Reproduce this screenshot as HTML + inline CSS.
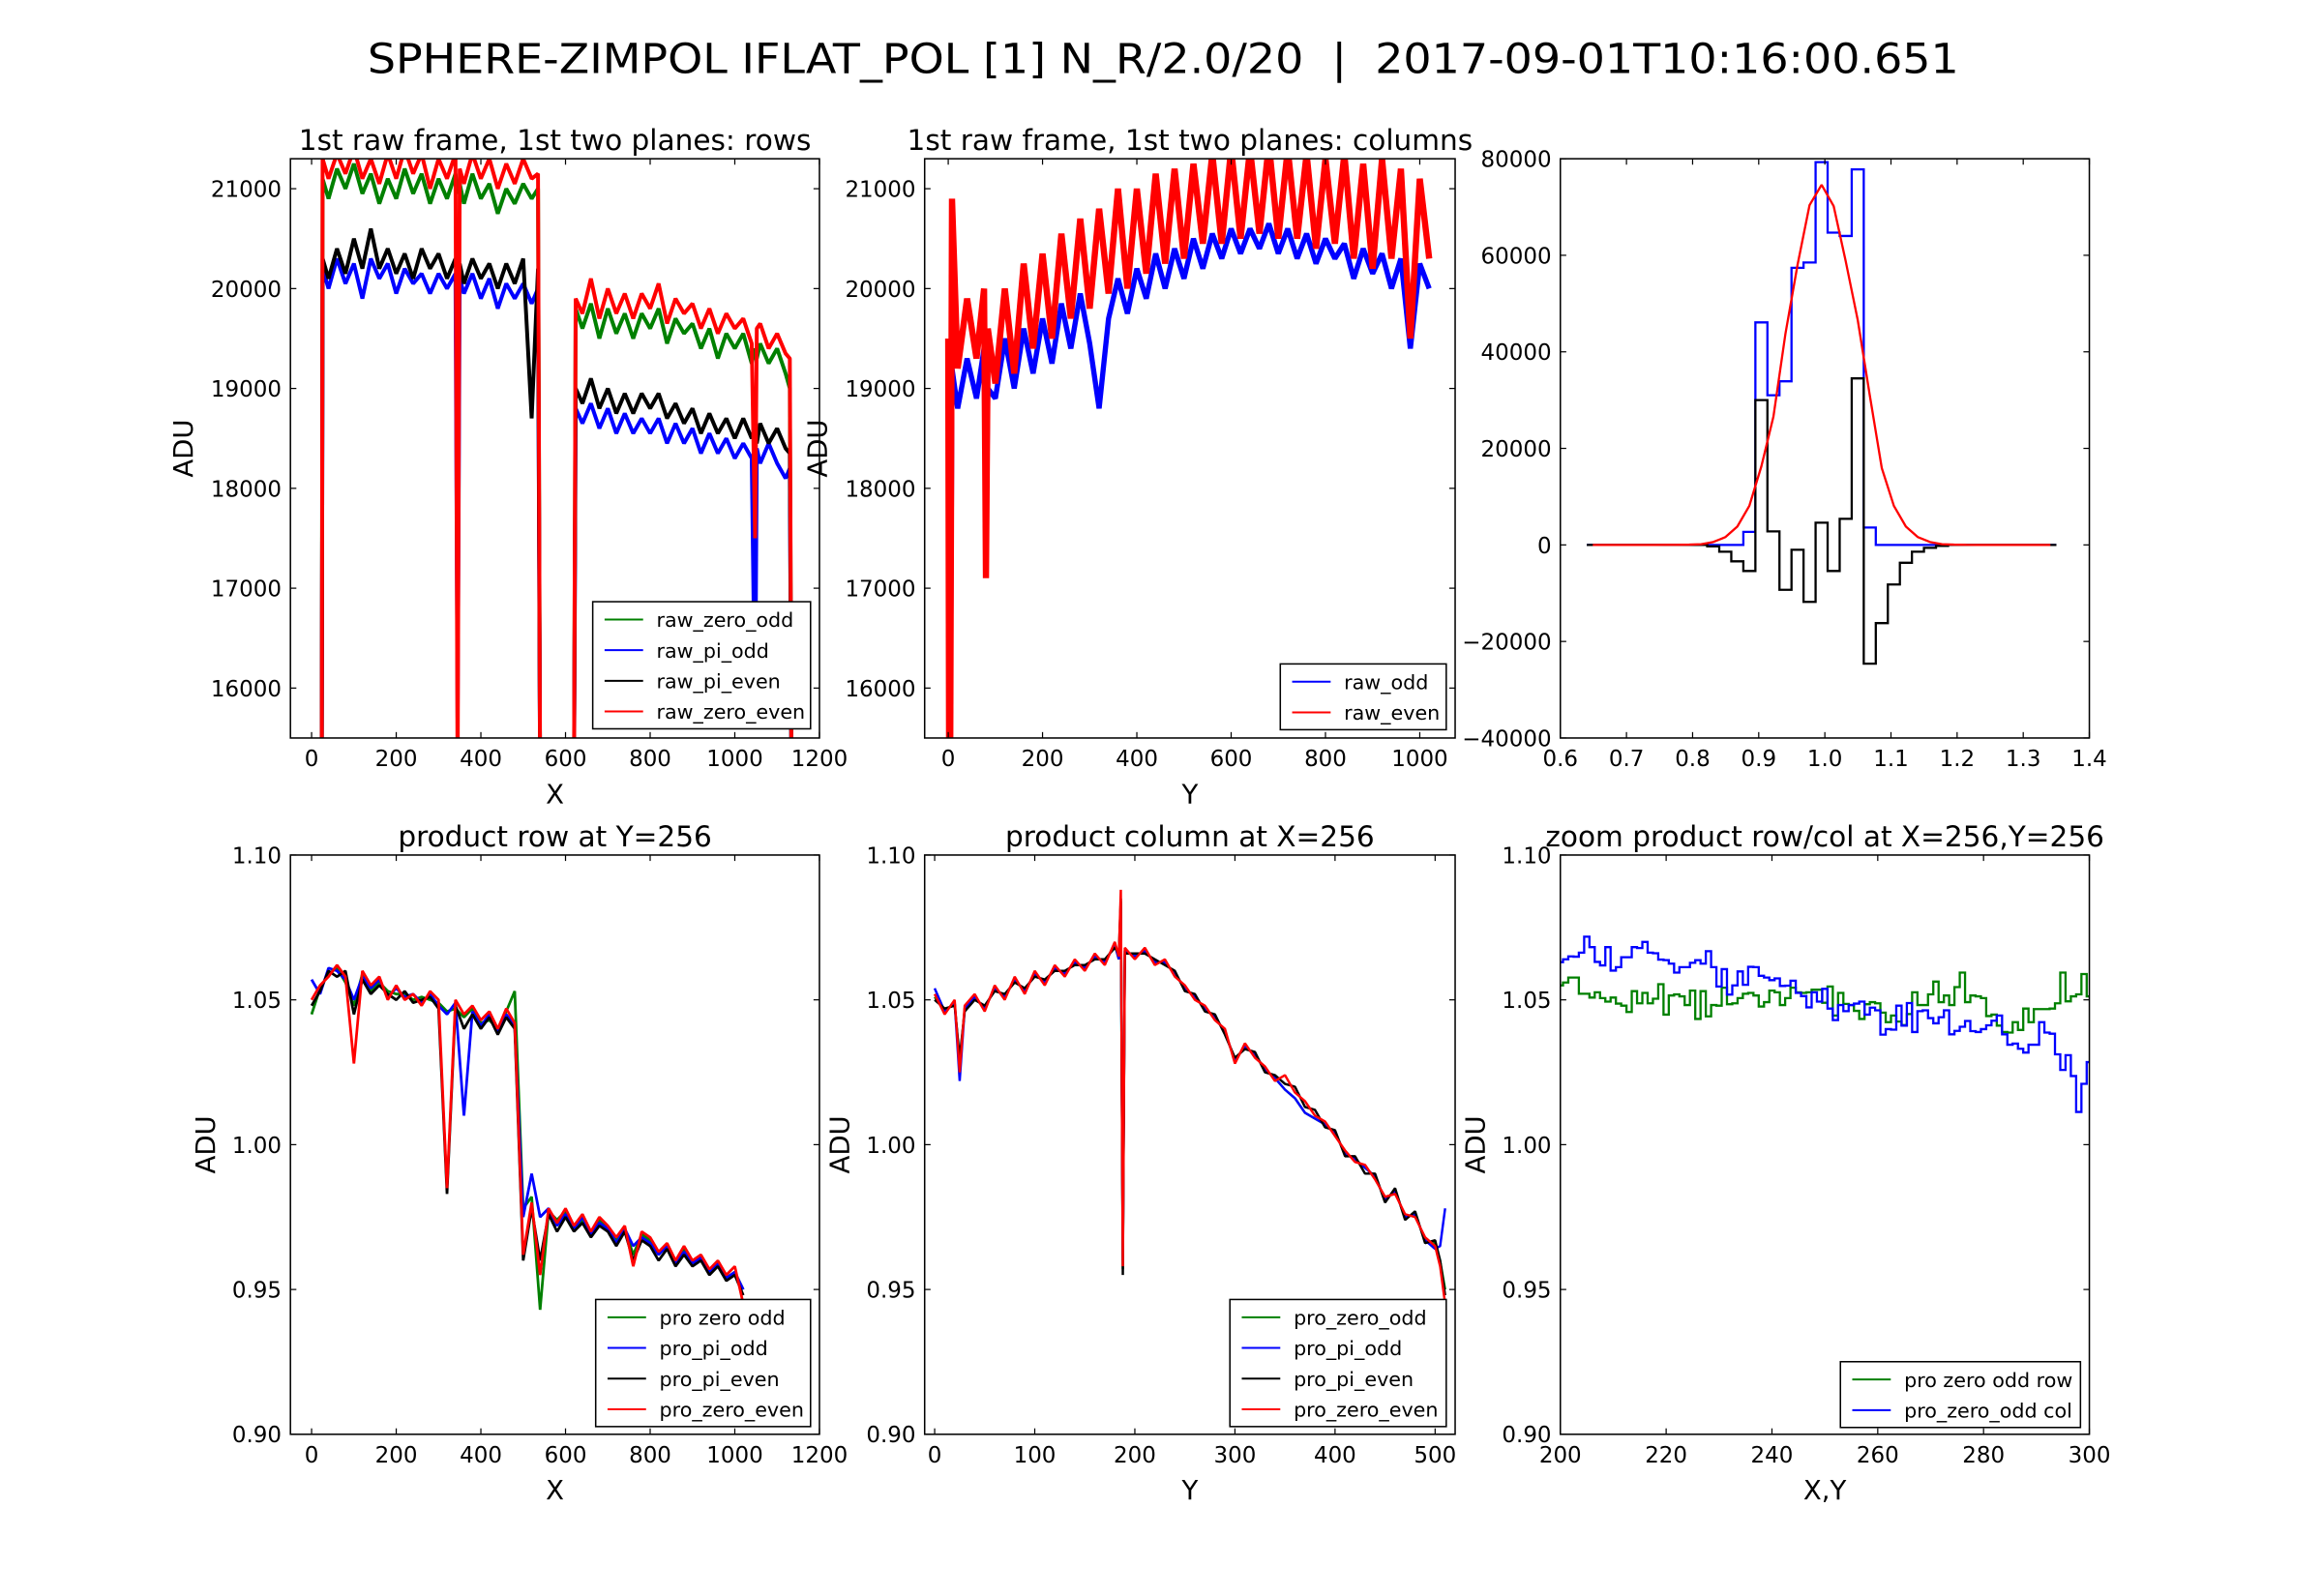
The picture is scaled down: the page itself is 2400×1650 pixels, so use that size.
<!DOCTYPE html>
<html>
<head>
<meta charset="utf-8">
<style>
html,body{margin:0;padding:0;background:#fff;}
svg{display:block;}
text{font-family:"DejaVu Sans","Liberation Sans",sans-serif;fill:#000;}
</style>
</head>
<body>
<svg id="chart" xmlns="http://www.w3.org/2000/svg" width="2400" height="1650" viewBox="0 0 1567 1077">
<rect x="0" y="0" width="1567" height="1077" fill="#fff"/>
<text x="785" y="49" font-size="28" text-anchor="middle" textLength="1074" lengthAdjust="spacingAndGlyphs">SPHERE-ZIMPOL IFLAT_POL [1] N_R/2.0/20&#160;&#160;|&#160;&#160;2017-09-01T10:16:00.651</text>
</svg>
<script>
// ---------- Panel 1: raw rows ----------
const xs1 = [0,24,26, 40,60,80,100,120,140,160,180,200,220,240,260,280,300,320,340, 345,350, 360,380,400,420,440,460,480,500,520, 535,540, 610,620,624, 640,660,680,700,720,740,760,780,800,820,840,860,880,900,920,940,960,980,1000,1020,1040, 1048,1052, 1060,1080,1100,1120, 1130,1134];
const rawZeroOdd1 = [15000,15000,21100, 20900,21200,21000,21250,20950,21150,20850,21100,20900,21200,20950,21150,20850,21100,20900,21150, 20950,21050, 20850,21150,20900,21050,20750,21000,20850,21050,20900, 21000,15000, 15000,15000,19800, 19600,19850,19500,19800,19550,19750,19500,19750,19600,19800,19450,19700,19550,19650,19400,19600,19300,19550,19400,19550,19250, 19400,19300, 19450,19250,19400,19150, 19000,15000];
const rawPiOdd1 = [15000,15000,20200, 20000,20300,20050,20250,19900,20300,20100,20250,19950,20200,20050,20150,19950,20150,20000,20150, 15700,20100, 19950,20150,19900,20100,19800,20050,19900,20050,19850, 20000,15000, 15000,15000,18800, 18650,18850,18600,18800,18550,18750,18550,18700,18550,18700,18450,18650,18450,18600,18350,18550,18350,18500,18300,18450,18300, 15700,18400, 18250,18450,18250,18100, 18200,15000];
const rawPiEven1 = [15000,15000,20300, 20100,20400,20150,20500,20200,20600,20200,20400,20150,20350,20100,20400,20200,20350,20100,20300, 20150,20250, 20050,20300,20100,20250,20000,20250,20050,20300,18700, 20200,15000, 15000,15000,19000, 18850,19100,18800,19000,18750,18950,18750,18950,18800,18950,18700,18850,18650,18800,18550,18750,18550,18700,18500,18700,18500, 18600,18450, 18650,18450,18600,18400, 18350,15000];
const rawZeroEven1 = [15000,15000,21300, 21100,21350,21150,21400,21100,21300,21050,21350,21100,21400,21150,21350,21000,21300,21100,21350, 15000,21200, 21050,21350,21100,21300,21000,21250,21050,21300,21100, 21150,15000, 15000,15000,19900, 19750,20100,19700,20000,19750,19950,19700,19950,19800,20050,19650,19900,19750,19850,19600,19800,19550,19750,19600,19700,19450, 17500,19600, 19650,19400,19550,19350, 19300,15000];

// ---------- Panel 2: raw columns ----------
const xs2 = [0,2,4,8,20,40,60,76,80,84, 100,120,140,160,180,200,220,240,260,280,300,320,340,360,380,400,420,440,460,480,500,520,540,560,580,600,620,640,660,680,700,720,740,760,780,800,820,840,860,880,900,920,940,960,980,1000,1020];
const rawOdd2 = [19000,15000,15000,19200,18800,19300,18900,19400,17400,19000, 18900,19500,19000,19600,19150,19700,19250,19850,19400,19950, 19450,18800,19700,20100,19750,20200,19900,20350,20000,20400, 20100,20500,20200,20550,20300,20600,20350,20600,20400,20650, 20350,20600,20300,20550,20250,20500,20300,20450,20100,20400, 20150,20350,20000,20300,19400,20250,20000];
const rawEven2 = [19500,15000,15000,20900,19200,19900,19300,20000,17100,19600, 19050,20000,19150,20250,19400,20350,19500,20550,19700,20700, 19800,20800,19950,21000,20000,21000,20150,21150,20250,21200, 20300,21250,20450,21350,20450,21400,20500,21400,20550,21450, 20500,21400,20500,21350,20400,21300,20450,21350,20300,21250, 20200,21300,20300,21200,19500,21100,20300];

// ---------- Panel 3: histograms ----------
const histStart = 0.64;
const histBinWidth = 0.01821;
const histBlue = [0,0,0,0,0,0,0,0,0,0, 0,0,0,2700,46100,31000,33900,57400,58500,79300, 64700,64000,77800,3600,0,0,0,0,0,0, 0,0,0,0,0,0,0,0,0];
const histBlack = [0,0,0,0,0,0,0,0,0,0, -300,-1400,-3400,-5400,30000,2800,-9300,-1000,-11800,4600, -5400,5400,34500,-24600,-16200,-8200,-3700,-1400,-600,-200, 0,0,0,0,0,0,0,0,0];
const histFit = [0,0,0,0,0,0,20,20,60,150, 600,1600,3800,8100,16300,26600,43800,58000,70400,74600, 70200,58800,46600,31000,15900,8100,3800,1600,600,150, 60,20,0,0,0,0,0,0,0];

// ---------- Panel 4: product row ----------
const xs4 = [0,20,40,60,80,100,120,140,160,180,200,220,240,260,280,300,320,340,360,380,400,420,440,460,480,500,520,540,560,580,600,620,640,660,680,700,720,740,760,780,800,820,840,860,880,900,920,940,960,980,1000,1020];
const proZeroOdd4 = [1.045,1.054,1.059,1.061,1.056,1.048,1.059,1.053,1.056,1.053, 1.052,1.052,1.050,1.051,1.050,1.049,1.046,1.047,1.044,1.047, 1.042,1.043,1.040,1.046,1.053,0.978,0.982,0.943,0.977,0.974, 0.977,0.971,0.974,0.969,0.974,0.971,0.967,0.971,0.962,0.969, 0.967,0.962,0.965,0.959,0.964,0.960,0.961,0.956,0.959,0.954, 0.956,0.950];
const proPiOdd4 = [1.057,1.052,1.061,1.060,1.057,1.050,1.058,1.054,1.057,1.051, 1.054,1.051,1.052,1.049,1.052,1.048,1.045,1.049,1.010,1.046, 1.041,1.045,1.039,1.045,1.041,0.975,0.990,0.975,0.978,0.972, 0.976,0.971,0.975,0.969,0.973,0.971,0.966,0.971,0.965,0.968, 0.966,0.962,0.965,0.959,0.963,0.959,0.961,0.956,0.959,0.954, 0.956,0.950];
const proPiEven4 = [1.048,1.053,1.060,1.058,1.060,1.045,1.057,1.052,1.055,1.052, 1.050,1.053,1.049,1.050,1.051,1.047,0.983,1.048,1.040,1.045, 1.040,1.044,1.038,1.044,1.040,0.960,0.978,0.960,0.976,0.970, 0.975,0.970,0.973,0.968,0.972,0.970,0.965,0.970,0.960,0.967, 0.965,0.960,0.964,0.958,0.962,0.958,0.960,0.955,0.958,0.953, 0.955,0.948];
const proZeroEven4 = [1.050,1.055,1.058,1.062,1.058,1.028,1.060,1.055,1.058,1.050, 1.055,1.050,1.052,1.048,1.053,1.050,0.985,1.050,1.045,1.048, 1.043,1.046,1.040,1.047,1.042,0.962,0.980,0.955,0.978,0.973, 0.978,0.972,0.976,0.970,0.975,0.972,0.968,0.972,0.958,0.970, 0.968,0.963,0.966,0.960,0.965,0.960,0.962,0.957,0.960,0.955, 0.958,0.945];

// ---------- Panel 5: product column ----------
const xs5 = [0,10,20,25,30, 40,50,60,70,80,90,100,110,120,130,140,150,160,170,180, 184,186,188, 190,200,210,220,230,240,250,260,270,280,290,300,310,320,330,340,350,360,370,380,390,400,410,420,430,440,450,460,470,480,490,500, 505,510];
const proZeroOdd5 = [1.051,1.046,1.049,1.028,1.047, 1.051,1.047,1.054,1.051,1.057,1.053,1.059,1.056,1.061,1.059,1.063,1.061,1.065,1.063,1.069, 1.064,1.084,0.957, 1.067,1.065,1.067,1.063,1.063,1.059,1.054,1.051,1.047,1.044, 1.039,1.029,1.034,1.031,1.026,1.023,1.019,1.016,1.011,1.009, 1.007,1.004,0.997,0.995,0.992,0.989,0.981,0.984,0.975,0.976, 0.967,0.966, 0.960,0.950];
const proPiOdd5 = [1.054,1.046,1.049,1.022,1.047, 1.051,1.047,1.054,1.051,1.057,1.053,1.059,1.056,1.061,1.059,1.063,1.061,1.065,1.063,1.069, 1.064,1.082,0.960, 1.067,1.065,1.067,1.063,1.063,1.059,1.054,1.051,1.047,1.044, 1.039,1.029,1.034,1.031,1.026,1.023,1.019,1.016,1.011,1.009, 1.007,1.004,0.997,0.995,0.992,0.989,0.981,0.984,0.975,0.976, 0.967,0.964, 0.965,0.978];
const proPiEven5 = [1.050,1.047,1.048,1.030,1.046, 1.050,1.048,1.053,1.052,1.056,1.054,1.058,1.057,1.060,1.060,1.062,1.062,1.064,1.064,1.068, 1.066,1.085,0.955, 1.066,1.066,1.066,1.064,1.062,1.060,1.053,1.052,1.046,1.045, 1.038,1.030,1.033,1.032,1.025,1.024,1.021,1.020,1.013,1.012, 1.006,1.005,0.996,0.996,0.990,0.990,0.980,0.985,0.974,0.977, 0.966,0.967, 0.960,0.948];
const proZeroEven5 = [1.052,1.045,1.050,1.025,1.048, 1.052,1.046,1.055,1.050,1.058,1.052,1.060,1.055,1.062,1.058,1.064,1.060,1.066,1.062,1.070, 1.065,1.088,0.958, 1.068,1.064,1.068,1.062,1.064,1.058,1.055,1.050,1.048,1.043, 1.040,1.028,1.035,1.030,1.027,1.022,1.024,1.018,1.015,1.010, 1.008,1.003,0.998,0.994,0.993,0.988,0.982,0.983,0.976,0.975, 0.968,0.965, 0.958,0.945];

// ---------- Panel 6: zoom ----------
const zoomStart = 200;
const zoomRow = [1.0550,1.0560,1.0577,1.0577,1.0521,1.0521,1.0508,1.0526,1.0506,1.0494,
1.0508,1.0487,1.0480,1.0458,1.0530,1.0488,1.0524,1.0488,1.0504,1.0554,
1.0449,1.0515,1.0519,1.0512,1.0482,1.0532,1.0434,1.0530,1.0443,1.0482,
1.0480,1.0542,1.0485,1.0488,1.0506,1.0521,1.0524,1.0515,1.0477,1.0492,
1.0532,1.0526,1.0482,1.0506,1.0542,1.0526,1.0524,1.0526,1.0535,1.0535,
1.0490,1.0546,1.0446,1.0524,1.0486,1.0482,1.0462,1.0434,1.0485,1.0492,
1.0488,1.0456,1.0423,1.0446,1.0425,1.0413,1.0451,1.0526,1.0482,1.0482,
1.0519,1.0563,1.0492,1.0515,1.0482,1.0544,1.0594,1.0492,1.0515,1.0512,
1.0506,1.0444,1.0449,1.0411,1.0389,1.0387,1.0423,1.0396,1.0470,1.0423,
1.0468,1.0468,1.0468,1.0470,1.0488,1.0594,1.0495,1.0512,1.0519,1.0589,
1.0512];
const zoomCol = [1.063,1.064,1.065,
1.0649,1.0663,1.0718,1.0682,1.0631,1.0619,1.0682,1.0601,1.0613,1.0647,
1.0647,1.0682,1.0679,1.0700,1.0663,1.0661,1.0639,1.0637,1.0625,1.0594,
1.0613,1.0613,1.0628,1.0637,1.0625,1.0668,1.0613,1.0546,1.0606,1.0518,
1.0550,1.0598,1.0552,1.0614,1.0613,1.0583,1.0577,1.0568,1.0574,1.0548,
1.0549,1.0566,1.0524,1.0513,1.0474,1.0526,1.0494,1.0538,1.0470,1.0430,
1.0482,1.0461,1.0482,1.0487,1.0494,1.0449,1.0473,1.0464,1.0380,1.0399,
1.0397,1.0480,1.0411,1.0489,1.0389,1.0461,1.0464,1.0437,1.0419,1.0440,
1.0464,1.0381,1.0393,1.0407,1.0427,1.0392,1.0389,1.0399,1.0412,1.0428,
1.0446,1.0381,1.0345,1.0349,1.0331,1.0318,1.0345,1.0345,1.0423,1.0387,
1.0383,1.0312,1.0258,1.0309,1.0237,1.0113,1.0210,1.0285];

// ---------- tick labels ----------
const rawYTicks = [16000,17000,18000,19000,20000,21000];
const rowXTicks = [0,200,400,600,800,1000,1200];
const colXTicks = [0,200,400,600,800,1000];
const histXTicks = [0.6,0.7,0.8,0.9,1.0,1.1,1.2,1.3,1.4];
const histYTicks = [-40000,-20000,0,20000,40000,60000,80000];
const proYTicks = [0.90,0.95,1.00,1.05,1.10];
const proColXTicks = [0,100,200,300,400,500];
const zoomXTicks = [200,220,240,260,280,300];

const NS = 'http://www.w3.org/2000/svg';
const svg = document.getElementById('chart');
function mk(tag, attrs, parent){
  const e = document.createElementNS(NS, tag);
  for (const k in attrs) e.setAttribute(k, attrs[k]);
  (parent || svg).appendChild(e);
  return e;
}
function fmtMinus(s){ return String(s).replace('-', '\u2212'); }

function makePanel(cfg){
  const g = mk('g', {});
  
  
  const sx = v => cfg.L + (v - cfg.xmin) / (cfg.xmax - cfg.xmin) * (cfg.R - cfg.L);
  const sy = v => cfg.B - (v - cfg.ymin) / (cfg.ymax - cfg.ymin) * (cfg.B - cfg.T);
  const cp = mk('clipPath', {id: cfg.name + '-clip'}, g);
  mk('rect', {x: cfg.L, y: cfg.T, width: cfg.R - cfg.L, height: cfg.B - cfg.T}, cp);
  const plot = mk('g', {'clip-path': 'url(#' + cfg.name + '-clip)'}, g);
  
  
  return {cfg, g, plot, sx, sy};
}

function finishPanel(p){
  const c = p.cfg, g = p.g;
  const fr = mk('rect', {x: c.L, y: c.T, width: c.R - c.L, height: c.B - c.T, fill: 'none', stroke: '#000', 'stroke-width': 1}, g);
  
  
  const tl = 4;
  c.xticks.forEach(v => {
    const x = p.sx(v);
    mk('line', {x1: x, x2: x, y1: c.B, y2: c.B - tl, stroke: '#000', 'stroke-width': 0.8}, g);
    mk('line', {x1: x, x2: x, y1: c.T, y2: c.T + tl, stroke: '#000', 'stroke-width': 0.8}, g);
    const t = mk('text', {x: x, y: c.B + 19, 'font-size': 15, 'text-anchor': 'middle'}, g);
    
    
    t.textContent = c.xfmt(v);
  });
  c.yticks.forEach(v => {
    const y = p.sy(v);
    mk('line', {x1: c.L, x2: c.L + tl, y1: y, y2: y, stroke: '#000', 'stroke-width': 0.8}, g);
    mk('line', {x1: c.R, x2: c.R - tl, y1: y, y2: y, stroke: '#000', 'stroke-width': 0.8}, g);
    const t = mk('text', {x: c.L - 6, y: y + 5.5, 'font-size': 15, 'text-anchor': 'end'}, g);
    
    
    t.textContent = c.yfmt(v);
  });
  if (c.title){
    const t = mk('text', {x: (c.L + c.R) / 2, y: c.T - 6, 'font-size': 19.3, 'text-anchor': 'middle'}, g);
    
    
    t.textContent = c.title;
  }
  if (c.xlabel){
    const t = mk('text', {x: (c.L + c.R) / 2, y: c.B + 44, 'font-size': 18, 'text-anchor': 'middle'}, g);
    
    
    t.textContent = c.xlabel;
  }
  if (c.ylabel){
    const yy = (c.T + c.B) / 2;
    const t = mk('text', {x: c.ylx, y: yy, 'font-size': 18, 'text-anchor': 'middle', transform: 'rotate(-90 ' + c.ylx + ' ' + yy + ')'}, g);
    
    
    t.textContent = c.ylabel;
  }
}

function drawLine(p, xs, ys, color, name, w){
  const n = Math.min(xs.length, ys.length);
  let d = '';
  for (let i = 0; i < n; i++) d += (i ? 'L' : 'M') + p.sx(xs[i]).toFixed(2) + ',' + p.sy(ys[i]).toFixed(2);
  const e = mk('path', {d: d, fill: 'none', stroke: color, 'stroke-width': w || 1.3, 'stroke-linejoin': 'bevel'}, p.plot);
  
  
  return e;
}

function drawHistSteps(p, vals, color, name){
  let d = '';
  for (let k = 0; k < vals.length; k++){
    const x0 = p.sx(histStart + k * histBinWidth), x1 = p.sx(histStart + (k + 1) * histBinWidth), y = p.sy(vals[k]);
    d += (k ? 'L' : 'M') + x0.toFixed(2) + ',' + y.toFixed(2) + 'L' + x1.toFixed(2) + ',' + y.toFixed(2);
  }
  const e = mk('path', {d: d, fill: 'none', stroke: color, 'stroke-width': 1.5}, p.plot);
  
  
}

function drawZoomSteps(p, vals, color, name){
  let d = '';
  for (let i = 0; i < vals.length; i++){
    const x = zoomStart + i;
    const y = p.sy(vals[i]);
    d += (i ? 'L' : 'M') + p.sx(x - 0.5).toFixed(2) + ',' + y.toFixed(2) + 'L' + p.sx(x + 0.5).toFixed(2) + ',' + y.toFixed(2);
  }
  const e = mk('path', {d: d, fill: 'none', stroke: color, 'stroke-width': 1.5}, p.plot);
  
  
}

function legend(p, x, y, w, entries, name){
  const g = mk('g', {}, p.g);
  
  
  const h = entries.length * 20.7 + 3;
  mk('rect', {x: x, y: y, width: w, height: h, fill: '#fff', stroke: '#000', 'stroke-width': 1}, g);
  entries.forEach((en, i) => {
    const yy = y + 12 + i * 20.7;
    const ln = mk('line', {x1: x + 8, x2: x + 34, y1: yy, y2: yy, stroke: en[1], 'stroke-width': 1.3}, g);
    
    
    const t = mk('text', {x: x + 43, y: yy + 5, 'font-size': 13.5}, g);
    
    
    t.textContent = en[0];
  });
}

const G = '#008000', B = '#0000ff', K = '#000000', R = '#ff0000';
const intFmt = v => String(v);

// Panel 1
const p1 = makePanel({name: 'raw-rows-panel', L: 196, T: 107, R: 553, B: 498, xmin: -50, xmax: 1200, ymin: 15500, ymax: 21300,
  xticks: rowXTicks, yticks: rawYTicks, xfmt: intFmt, yfmt: intFmt, title: '1st raw frame, 1st two planes: rows', xlabel: 'X', ylabel: 'ADU', ylx: 130});
drawLine(p1, xs1, rawZeroOdd1, G, 'raw-zero-odd-line', 2.6);
drawLine(p1, xs1, rawPiOdd1, B, 'raw-pi-odd-line', 2.6);
drawLine(p1, xs1, rawPiEven1, K, 'raw-pi-even-line', 2.6);
drawLine(p1, xs1, rawZeroEven1, R, 'raw-zero-even-line', 2.6);
finishPanel(p1);
legend(p1, 400, 406, 147, [['raw_zero_odd', G], ['raw_pi_odd', B], ['raw_pi_even', K], ['raw_zero_even', R]], 'raw-rows-legend');

// Panel 2
const p2 = makePanel({name: 'raw-columns-panel', L: 624, T: 107, R: 982, B: 498, xmin: -50, xmax: 1075, ymin: 15500, ymax: 21300,
  xticks: colXTicks, yticks: rawYTicks, xfmt: intFmt, yfmt: intFmt, title: '1st raw frame, 1st two planes: columns', xlabel: 'Y', ylabel: 'ADU', ylx: 558});
drawLine(p2, xs2, rawOdd2, B, 'raw-odd-line', 3.5);
drawLine(p2, xs2, rawEven2, R, 'raw-even-line', 4.2);
finishPanel(p2);
legend(p2, 864, 448, 112, [['raw_odd', B], ['raw_even', R]], 'raw-columns-legend');

// Panel 3
const p3 = makePanel({name: 'histogram-panel', L: 1053, T: 107, R: 1410, B: 498, xmin: 0.6, xmax: 1.4, ymin: -40000, ymax: 80000,
  xticks: histXTicks, yticks: histYTicks, xfmt: v => v.toFixed(1), yfmt: v => fmtMinus(v), title: '', xlabel: '', ylabel: ''});
drawHistSteps(p3, histBlue, B, 'histogram-blue-steps');
drawHistSteps(p3, histBlack, K, 'histogram-black-steps');
(function(){
  const centers = histFit.map((v, k) => histStart + (k + 0.5) * histBinWidth);
  drawLine(p3, centers, histFit, R, 'gaussian-fit-line', 1.5);
})();
finishPanel(p3);

// Panel 4
const p4 = makePanel({name: 'product-row-panel', L: 196, T: 577, R: 553, B: 968, xmin: -50, xmax: 1200, ymin: 0.9, ymax: 1.1,
  xticks: rowXTicks, yticks: proYTicks, xfmt: intFmt, yfmt: v => v.toFixed(2), title: 'product row at Y=256', xlabel: 'X', ylabel: 'ADU', ylx: 145});
drawLine(p4, xs4, proZeroOdd4, G, 'pro-zero-odd-row-line', 1.8);
drawLine(p4, xs4, proPiOdd4, B, 'pro-pi-odd-row-line', 1.8);
drawLine(p4, xs4, proPiEven4, K, 'pro-pi-even-row-line', 1.8);
drawLine(p4, xs4, proZeroEven4, R, 'pro-zero-even-row-line', 1.8);
finishPanel(p4);
legend(p4, 402, 877, 145, [['pro zero odd', G], ['pro_pi_odd', B], ['pro_pi_even', K], ['pro_zero_even', R]], 'product-row-legend');

// Panel 5
const p5 = makePanel({name: 'product-column-panel', L: 624, T: 577, R: 982, B: 968, xmin: -10, xmax: 520, ymin: 0.9, ymax: 1.1,
  xticks: proColXTicks, yticks: proYTicks, xfmt: intFmt, yfmt: v => v.toFixed(2), title: 'product column at X=256', xlabel: 'Y', ylabel: 'ADU', ylx: 573});
drawLine(p5, xs5, proZeroOdd5, G, 'pro-zero-odd-col-line', 1.6);
drawLine(p5, xs5, proPiOdd5, B, 'pro-pi-odd-col-line', 1.6);
drawLine(p5, xs5, proPiEven5, K, 'pro-pi-even-col-line', 1.6);
drawLine(p5, xs5, proZeroEven5, R, 'pro-zero-even-col-line', 1.6);
finishPanel(p5);
legend(p5, 830, 877, 146, [['pro_zero_odd', G], ['pro_pi_odd', B], ['pro_pi_even', K], ['pro_zero_even', R]], 'product-column-legend');

// Panel 6
const p6 = makePanel({name: 'zoom-panel', L: 1053, T: 577, R: 1410, B: 968, xmin: 200, xmax: 300, ymin: 0.9, ymax: 1.1,
  xticks: zoomXTicks, yticks: proYTicks, xfmt: intFmt, yfmt: v => v.toFixed(2), title: 'zoom product row/col at X=256,Y=256', xlabel: 'X,Y', ylabel: 'ADU', ylx: 1002});
drawZoomSteps(p6, zoomRow, G, 'zoom-row-steps');
drawZoomSteps(p6, zoomCol, B, 'zoom-col-steps');
finishPanel(p6);
legend(p6, 1242, 919, 162, [['pro zero odd row', G], ['pro_zero_odd col', B]], 'zoom-legend');
</script>
</body>
</html>
